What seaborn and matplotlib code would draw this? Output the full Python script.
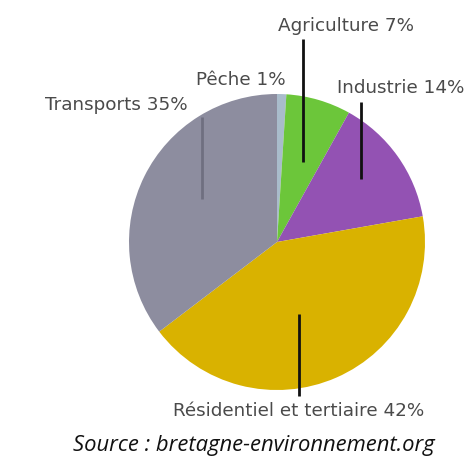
import matplotlib
matplotlib.use('Agg')
import matplotlib.pyplot as plt
import numpy as np
import seaborn as sns

# data
sectors = ['Pêche', 'Agriculture', 'Industrie', 'Résidentiel et tertiaire', 'Transports']
shares = [1, 7, 14, 42, 35]
colors = ['#a9bccb', '#6cc63a', '#9352b3', '#d9b200', '#8d8d9f']

sns.set_style('white')
plt.rcParams['font.family'] = ['DejaVu Sans']

W, H = 474, 460
fig = plt.figure(figsize=(W / 100, H / 100), dpi=100)

# pie centre and radius in pixels
cx, cy, r = 277, 243, 148
ax = fig.add_axes([(cx - r) / W, (H - cy - r) / H, 2 * r / W, 2 * r / H])
ax.pie(shares, colors=colors, startangle=90, counterclock=False,
       radius=1, wedgeprops={'linewidth': 0})
ax.set_xlim(-1, 1)
ax.set_ylim(-1, 1)
ax.set_aspect('auto')
ax.axis('off')


def px(x, y):
    # pixel -> data coordinates of the pie axes
    return (x - cx) / r, (cy - y) / r


# label layout: (text centre x, y) in pixels, leader line (x, y_top, y_bottom) or None
labels = {
    'Pêche': ((241, 80), None, '#555555'),
    'Agriculture': ((346, 26), (303, 40, 163), '#111111'),
    'Industrie': ((401, 88), (361, 103, 180), '#111111'),
    'Résidentiel et tertiaire': ((299, 411), (299, 397, 315), '#111111'),
    'Transports': ((116, 105), (202, 118, 200), '#6f6f80'),
}

for name, val in zip(sectors, shares):
    (tx, ty), line, lc = labels[name]
    x, y = px(tx, ty)
    ax.text(x, y, f'{name} {val}%', ha='center', va='center', fontsize=13.2,
            color='#4a4a4a', clip_on=False)
    if line is not None:
        lx, y0, y1 = line
        xa, ya = px(lx, y0)
        xb, yb = px(lx, y1)
        ax.plot([xa, xb], [ya, yb], color=lc, lw=2, clip_on=False,
                solid_capstyle='butt')

fig.text(254 / W, 1 - 446 / H, 'Source : bretagne-environnement.org',
         ha='center', va='center', fontsize=15.8, style='italic',
         family=['Open Sans', 'DejaVu Sans'], color='#111111')

fig.savefig('out.png', dpi=100)
